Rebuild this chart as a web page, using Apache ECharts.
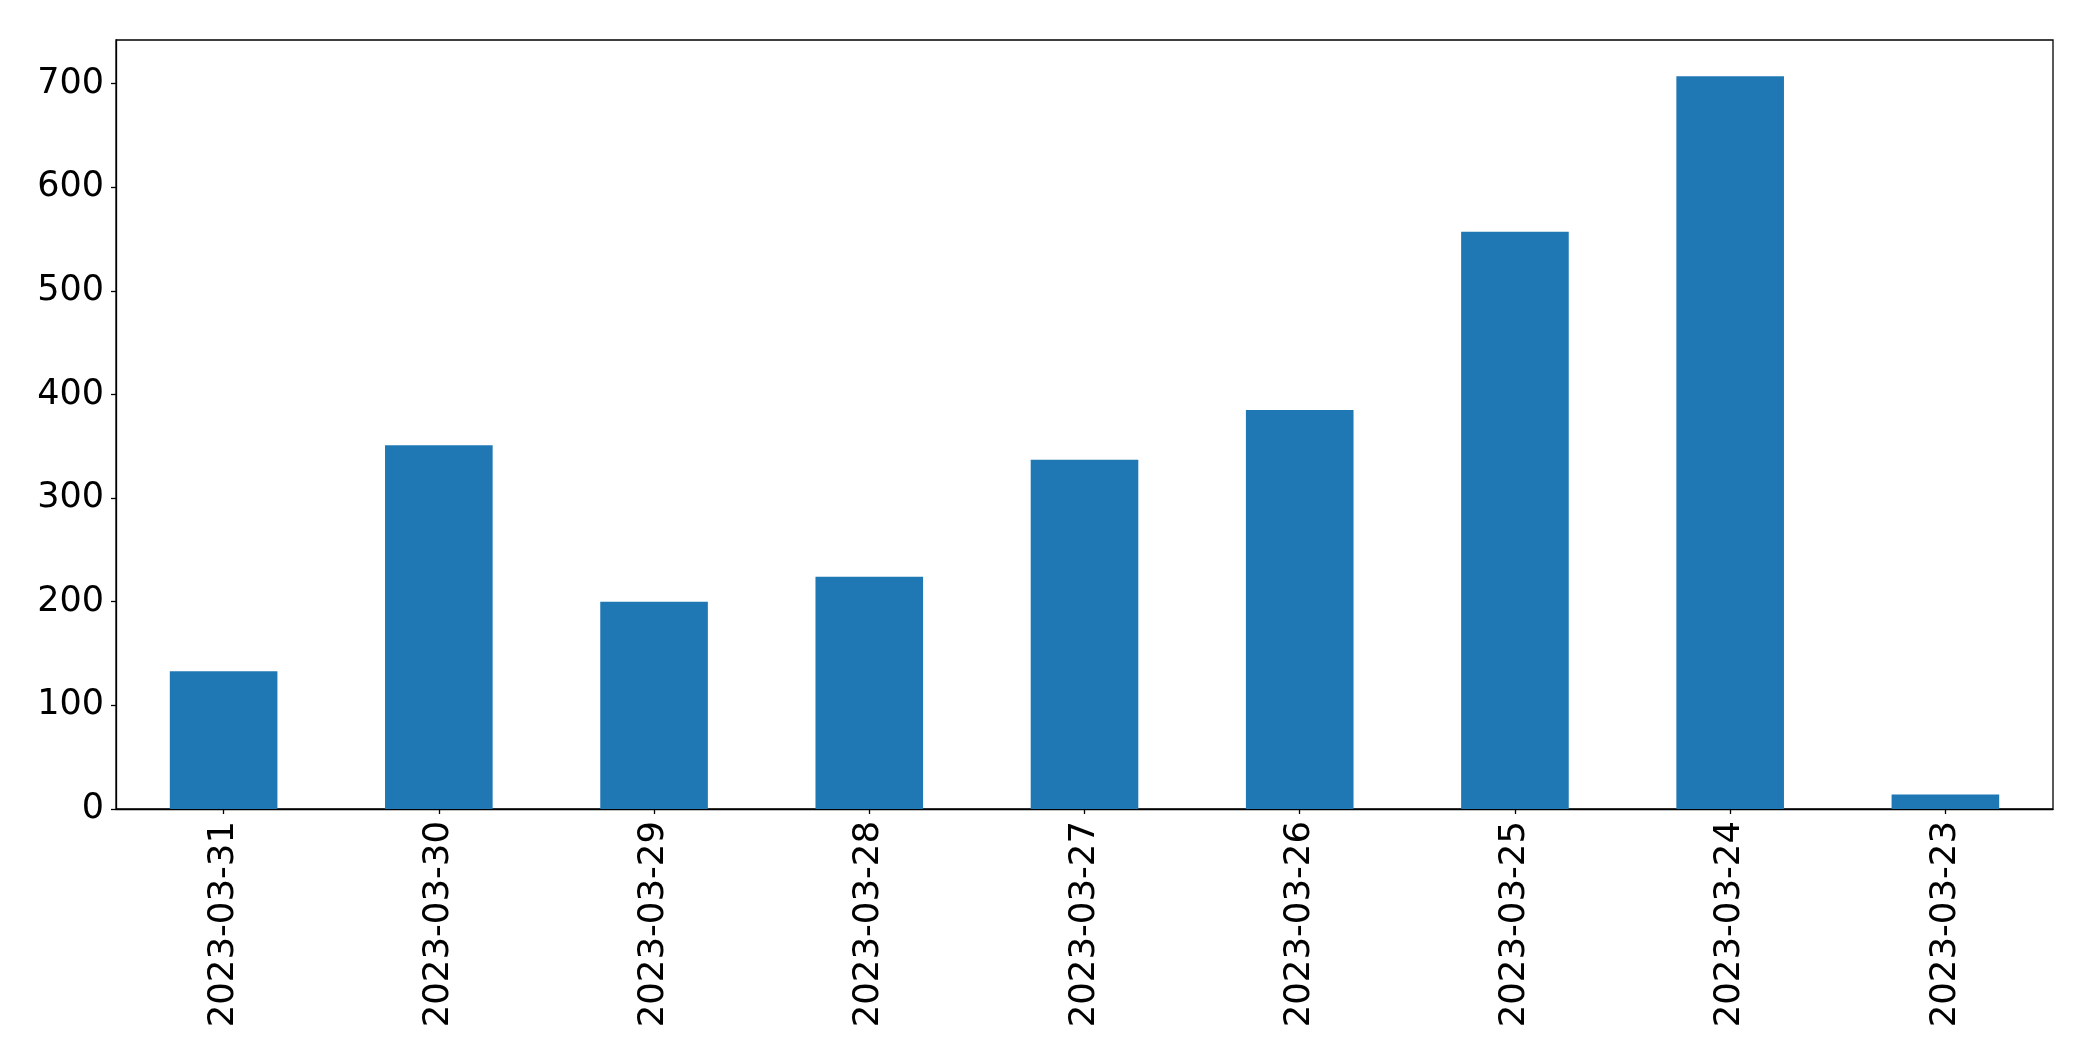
<!DOCTYPE html>
<html>
<head>
<meta charset="utf-8">
<script src="https://cdn.jsdelivr.net/npm/echarts@6/dist/echarts.min.js"></script>
<style>
html,body{margin:0;padding:0;background:#fff;}
#chart{width:2093px;height:1061px;}
</style>
</head>
<body>
<div id="chart"></div>
<script>
const categories = ['2023-03-31','2023-03-30','2023-03-29','2023-03-28','2023-03-27','2023-03-26','2023-03-25','2023-03-24','2023-03-23'];
const values = [133, 351, 200, 224, 337, 385, 557, 707, 14];
const yTicks = [0, 100, 200, 300, 400, 500, 600, 700];

const chart = echarts.init(document.getElementById('chart'));
const font = 'DejaVu Sans';
chart.setOption({
  animation: false,
  backgroundColor: '#ffffff',
  grid: {left: 116, right: 40, top: 40, bottom: 252, show: true, borderColor: '#000', borderWidth: 1.3, containLabel: false},
  xAxis: {
    type: 'category',
    data: categories,
    boundaryGap: true,
    axisLine: {show: true, lineStyle: {color: '#000', width: 1.3}},
    axisTick: {show: true, alignWithLabel: true, length: 5, lineStyle: {color: '#000', width: 1.3}},
    axisLabel: {rotate: 90, fontSize: 35.5, fontFamily: font, color: '#000', margin: 12, interval: 0},
    splitLine: {show: false}
  },
  yAxis: {
    type: 'value',
    min: 0,
    max: 742,
    interval: 100,
    axisLine: {show: true, lineStyle: {color: '#000', width: 1.3}},
    axisTick: {show: true, length: 5, customValues: yTicks, lineStyle: {color: '#000', width: 1.3}},
    axisLabel: {fontSize: 35, fontFamily: font, color: '#000', margin: 12, customValues: yTicks},
    splitLine: {show: false}
  },
  series: [{
    type: 'bar',
    data: values,
    barWidth: '50%',
    itemStyle: {color: '#1f77b4'}
  }]
});
</script>
</body>
</html>
